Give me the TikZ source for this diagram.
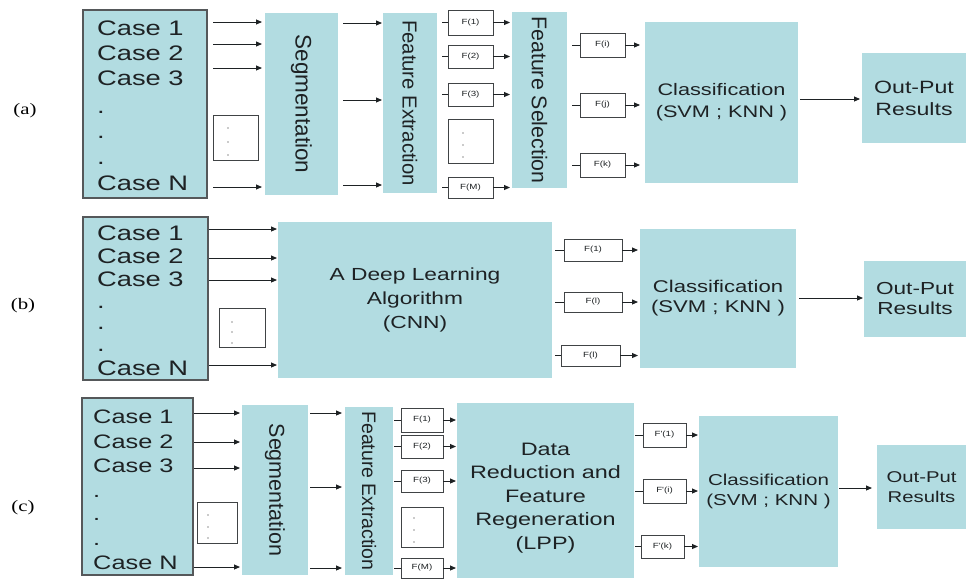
\documentclass[tikz,border=0pt]{standalone}
\usepackage{fontspec}
\usepackage{graphicx}
\setmainfont{Liberation Sans}
\newfontfamily\widesans[FakeStretch=1.3]{Liberation Sans}
\newfontfamily\rotsans{Liberation Sans}
\newfontfamily\wideserif[FakeStretch=1.3]{Liberation Serif}
\usetikzlibrary{arrows.meta,calc}
\definecolor{boxfill}{RGB}{178,220,225}
\definecolor{ink}{RGB}{30,34,36}
\definecolor{edge}{RGB}{85,88,90}
\definecolor{dotc}{RGB}{150,150,150}

\tikzset{
  blk/.style={fill=boxfill, draw=none, inner sep=0pt, outer sep=0pt, text=ink, align=center},
  casebox/.style={fill=boxfill, draw=edge, line width=1.4pt, inner sep=0pt, outer sep=0pt},
  fbox/.style={fill=white, draw=ink!85, line width=1pt, inner sep=0pt, outer sep=0pt,
    text=ink, font=\widesans\fontsize{7.5}{9}\selectfont},
  dotbox/.style={fill=white, draw=ink!85, line width=1pt, inner sep=0pt, outer sep=0pt},
  arr/.style={draw=ink, line width=0.9pt, -{Triangle[length=6pt,width=5pt]}},
  stub/.style={draw=ink, line width=0.9pt},
  casetxt/.style={anchor=west, inner sep=0pt, text=ink},
  paneltag/.style={inner sep=0pt, text=black, font=\wideserif\fontsize{16}{18}\selectfont},
  wide/.style 2 args={font=\widesans\fontsize{#1}{#2}\selectfont},
}

% box from its corners: [style]{name}{x1}{y1}{x2}{y2}{text}
\newcommand\boxnode[7][]{%
  \pgfmathsetmacro\bxw{#5-#3}\pgfmathsetmacro\bxh{#6-#4}%
  \pgfmathsetmacro\bxcx{(#3+#5)/2}\pgfmathsetmacro\bxcy{(#4+#6)/2}%
  \node[#1, minimum width=\bxw pt, minimum height=\bxh pt] (#2) at (\bxcx,\bxcy) {#7};}
% horizontal arrow between two nodes at height y: {from}{to}{y}{gap start}{gap end}
\newcommand\link[5]{\draw[arr, shorten <=#4pt, shorten >=#5pt] (#1.east |- 0,#3) -- (#2.west |- 0,#3);}
% feature box fed by a stub and feeding an arrow: {src}{fbox}{dst}{stub gap}{arrow gap}
\newcommand\feed[5]{%
  \draw[stub, shorten <=#4pt] (#1.east |- #2.west) -- (#2.west);
  \draw[arr, shorten >=#5pt] (#2.east) -- (#3.west |- #2.east);}
\newcommand\rottext[2]{\rotatebox{-90}{\rotsans\fontsize{#1}{#1}\selectfont #2}}
% centred block of lines, drawn shifted vertically by #1 while keeping its size
\newcommand\linesblock[2]{\raisebox{#1}[\height][\depth]{\begin{tabular}{@{}c@{}}#2\end{tabular}}}

\begin{document}
\begin{tikzpicture}[x=1pt,y=-1pt]
\useasboundingbox (0,0) rectangle (966,581);
\fill[white] (0,0) rectangle (966,581);

%% ---------------- (a) ----------------
\node[paneltag] (tagA) at (25,111) {(a)};
\boxnode[casebox]{caseA}{83}{10}{207}{198}{}
\foreach \t/\yy/\n in {Case 1/28/1, Case 2/53/2, Case 3/78/3, ./112/4, ./137/5, ./163/6, Case N/183/7}
  \node[casetxt, wide={21}{24}] (caseA\n) at (97,\yy) {\t};
\boxnode[dotbox]{dotsA}{213}{115}{258}{160}{}
\foreach \yy in {128,142,155} \fill[dotc] (228,\yy) circle (0.8);

\boxnode[blk]{segA}{265}{13}{338}{195}{\rottext{22.5}{Segmentation}}
\foreach \yy in {22,44,68,187} { \link{caseA}{segA}{\yy}{6}{3} }

\boxnode[blk]{feA}{383}{13}{437}{193}{\rottext{20.3}{Feature Extraction}}
\foreach \yy in {23,100,185} { \link{segA}{feA}{\yy}{5}{1} }

\boxnode[blk]{fsA}{512}{12}{567}{188}{\rottext{21.3}{Feature Selection}}
\boxnode[fbox]{fA1}{448}{10}{493}{35}{F(1)}
\boxnode[fbox]{fA2}{448}{45}{493}{68}{F(2)}
\boxnode[fbox]{fA3}{448}{83}{493}{106}{F(3)}
\boxnode[dotbox]{fAd}{448}{119}{493}{163}{}
\foreach \yy in {133,145,157} \fill[dotc] (463,\yy) circle (0.8);
\boxnode[fbox]{fAM}{448}{177}{493}{198}{F(M)}
\foreach \f in {fA1,fA2,fA3,fAM} { \feed{feA}{\f}{fsA}{5}{2} }

\boxnode[blk, wide={16.7}{22}]{clsA}{645}{22}{798}{183}{Classification\\(SVM ; KNN )}
\boxnode[fbox]{fAi}{580}{33}{625}{57}{F(i)}
\boxnode[fbox]{fAj}{580}{93}{625}{117}{F(j)}
\boxnode[fbox]{fAk}{580}{153}{625}{177}{F(k)}
\foreach \f in {fAi,fAj,fAk} { \feed{fsA}{\f}{clsA}{5}{5} }

\boxnode[blk, wide={17.8}{22}]{outA}{862}{53}{966}{143}{Out-Put\\Results}
\link{clsA}{outA}{99}{2}{2}

%% ---------------- (b) ----------------
\node[paneltag] (tagB) at (23,306) {(b)};
\boxnode[casebox]{caseB}{83}{217}{208}{380}{}
\foreach \t/\yy/\n in {Case 1/233/1, Case 2/256/2, Case 3/279/3, ./307/4, ./328/5, ./350/6, Case N/368/7}
  \node[casetxt, wide={21}{24}] (caseB\n) at (97,\yy) {\t};
\boxnode[dotbox]{dotsB}{219}{308}{265}{347}{}
\foreach \yy in {322,332,343} \fill[dotc] (232,\yy) circle (0.8);

\boxnode[blk, wide={17.5}{24}]{dlB}{278}{222}{552}{378}{\linesblock{0pt}{A Deep Learning\\Algorithm\\(CNN)}}
\foreach \yy in {229,258,280,365} { \link{caseB}{dlB}{\yy}{1}{1} }

\boxnode[blk, wide={17}{20}]{clsB}{640}{229}{796}{368}{Classification\\(SVM ; KNN )}
\boxnode[fbox]{fB1}{564}{239}{622}{261}{F(1)}
\boxnode[fbox]{fB2}{564}{292}{622}{312}{F(l)}
\boxnode[fbox]{fB3}{561}{345}{620}{366}{F(l)}
\foreach \f in {fB1,fB2,fB3} { \feed{dlB}{\f}{clsB}{3}{2} }

\boxnode[blk, wide={17.4}{20}]{outB}{864}{261}{966}{337}{Out-Put\\Results}
\link{clsB}{outB}{298}{3}{1}

%% ---------------- (c) ----------------
\node[paneltag] (tagC) at (23,508) {(c)};
\boxnode[casebox]{caseC}{82}{398}{193}{575}{}
\foreach \t/\yy/\n in {Case 1/417/1, Case 2/442/2, Case 3/466/3, ./496/4, ./519/5, ./544/6, Case N/563/7}
  \node[casetxt, wide={19.5}{23}] (caseC\n) at (93,\yy) {\t};
\boxnode[dotbox]{dotsC}{197}{502}{237}{543}{}
\foreach \yy in {515,527,538} \fill[dotc] (208,\yy) circle (0.8);

\boxnode[blk]{segC}{242}{405}{308}{575}{\rottext{21.5}{Segmentation}}
\foreach \yy in {413,442,468,567} { \link{caseC}{segC}{\yy}{1}{2} }

\boxnode[blk]{feC}{345}{407}{393}{575}{\rottext{19.5}{Feature Extraction}}
\foreach \yy in {413,487,568} { \link{segC}{feC}{\yy}{2}{3} }

\boxnode[blk, wide={18}{23.5}]{drC}{457}{403}{634}{578}{\linesblock{-7pt}{Data\\Reduction and\\Feature\\Regeneration\\(LPP)}}
\boxnode[fbox]{fC1}{401}{408}{443}{432}{F(1)}
\boxnode[fbox]{fC2}{401}{435}{443}{458}{F(2)}
\boxnode[fbox]{fC3}{401}{470}{443}{492}{F(3)}
\boxnode[dotbox]{fCd}{401}{507}{443}{547}{}
\foreach \yy in {518,530,542} \fill[dotc] (414,\yy) circle (0.8);
\boxnode[fbox]{fCM}{401}{558}{443}{578}{F(M)}
\foreach \f in {fC1,fC2,fC3,fCM} { \feed{feC}{\f}{drC}{1}{1} }

\boxnode[blk, wide={15.8}{20}]{clsC}{699}{416}{838}{567}{Classification\\(SVM ; KNN )}
\boxnode[fbox]{gC1}{643}{423}{686}{447}{F'(1)}
\boxnode[fbox]{gC2}{643}{479}{686}{503}{F'(i)}
\boxnode[fbox]{gC3}{641}{535}{684}{558}{F'(k)}
\foreach \f in {gC1,gC2,gC3} { \feed{drC}{\f}{clsC}{1}{1} }

\boxnode[blk, wide={15.6}{20}]{outC}{877}{445}{966}{529}{Out-Put\\Results}
\link{clsC}{outC}{488}{1}{5}
\end{tikzpicture}
\end{document}
